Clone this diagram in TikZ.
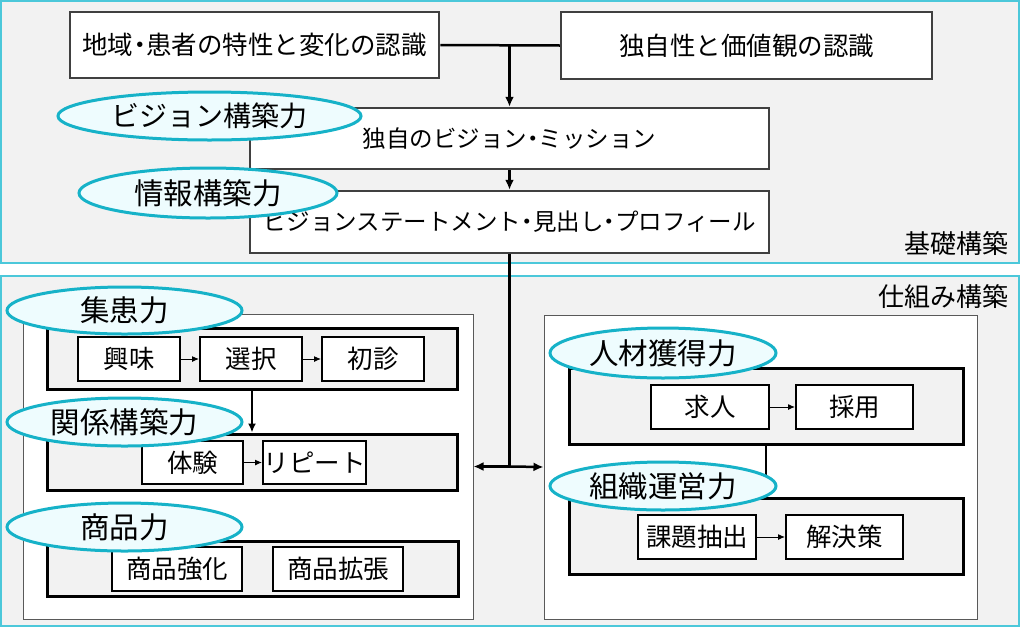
\documentclass[tikz,border=0pt]{standalone}
\usepackage{fontspec}
\setmainfont{Noto Sans CJK JP}
\usetikzlibrary{shapes.geometric,arrows.meta}
\definecolor{panelcyan}{RGB}{76,200,218}
\definecolor{skillcyan}{RGB}{22,178,200}
\definecolor{skillfill}{RGB}{238,252,254}
\definecolor{panelgray}{RGB}{242,242,242}
\newcommand\nkg{\kern-0.25em・\kern-0.25em}
\begin{document}
\begin{tikzpicture}[x=1pt,y=-1pt,
	panel/.style={rectangle,draw=panelcyan,fill=panelgray,line width=1.5pt,inner sep=0pt},
	white/.style={rectangle,draw=black!65,fill=white,line width=1pt,inner sep=0pt},
	subpanel/.style={rectangle,draw=black,fill=panelgray,line width=3pt,inner sep=0pt},
	topbox/.style={rectangle,draw=black!75,fill=white,line width=2.5pt,inner sep=0pt,font=\fontsize{25.5}{30}\selectfont},
	innerbox/.style={rectangle,draw=black,fill=white,line width=2pt,inner sep=0pt,minimum height=44,font=\fontsize{25.5}{30}\selectfont},
	skill/.style={ellipse,draw=skillcyan,fill=skillfill,line width=3pt,inner sep=0pt,font=\fontsize{29.5}{33}\selectfont},
	mainarr/.style={line width=2.5pt,-{Latex[length=10pt,width=9pt]}},
	smallarr/.style={line width=1pt,-{Latex[length=7pt,width=6pt]}}]
	\useasboundingbox [fill=white] (0,0) rectangle (1024,627);

	% panels
	\node (P1) [panel,minimum width=1018,minimum height=262] at (510,132){};
	\node (P2) [panel,minimum width=1018,minimum height=350] at (510,451){};
	\node (N1) [anchor=east,inner sep=0pt,font=\fontsize{26}{30}\selectfont] at (1009,244) {基礎構築};
	\node (N2) [anchor=east,inner sep=0pt,font=\fontsize{26}{30}\selectfont] at (1009,297) {仕組み構築};

	% top boxes
	\node (B1) [topbox,minimum width=369,minimum height=66] at (254.5,45) {地域\nkg 患者の特性と変化の認識};
	\node (B2) [topbox,minimum width=371,minimum height=67] at (746.5,45.5) {独自性と価値観の認識};
	\node (B3) [topbox,minimum width=519,minimum height=61,font=\fontsize{23.5}{28}\selectfont] at (509.5,138.5) {独自のビジョン\nkg ミッション};
	\node (B4) [topbox,minimum width=519,minimum height=62,font=\fontsize{23.5}{28}\selectfont] at (509.5,222) {ビジョンステートメント\nkg 見出し\nkg プロフィール};
	\coordinate (J1) at (B3.north |- B1.east);
	\draw [line width=2.5pt] (B1.east)--(B2.west);
	\draw [mainarr] (J1)--(B3.north);
	\draw [mainarr] (B3.south)--(B4.north);

	% white panels
	\node (W1) [white,minimum width=450,minimum height=305] at (248,466.5){};
	\node (W2) [white,minimum width=433,minimum height=304] at (760.5,467){};
	\coordinate (J2) at (B4.south |- W1.east);
	\draw [line width=2.5pt] (B4.south)--(J2);
	\draw [mainarr] (J2)--(W1.east);
	\draw [mainarr] (J2)--(W2.west);

	% left side
	\node (S1) [subpanel,minimum width=410,minimum height=61] at (252,358.5){};
	\node (S2) [subpanel,minimum width=410,minimum height=56] at (252,462){};
	\node (S3) [subpanel,minimum width=411,minimum height=55] at (252.5,568.5){};
	\node (T1) [innerbox,minimum width=102] at (129,359) {興味};
	\node (T2) [innerbox,minimum width=102] at (251,359) {選択};
	\node (T3) [innerbox,minimum width=102] at (373,359) {初診};
	\node (T4) [innerbox,minimum width=101,minimum height=43] at (192.5,462.5) {体験};
	\node (T5) [innerbox,minimum width=103,minimum height=43] at (314.5,462.5) {リピート};
	\node (T6) [innerbox,minimum width=130] at (177,569) {商品強化};
	\node (T7) [innerbox,minimum width=130] at (338,569) {商品拡張};
	\draw [smallarr] (T1.east)--(T2.west);
	\draw [smallarr] (T2.east)--(T3.west);
	\draw [smallarr] (T4.east)--(T5.west);
	\draw [line width=2.5pt,-{Latex[length=9pt,width=8pt]}] (S1.south)--(S2.north);

	% right side
	\node (S4) [subpanel,minimum width=394,minimum height=76] at (766,406){};
	\node (S5) [subpanel,minimum width=394,minimum height=76] at (766,536){};
	\draw [line width=2.5pt] (S4.south)--(S5.north);
	\node (T8) [innerbox,minimum width=118] at (710,407) {求人};
	\node (T9) [innerbox,minimum width=117] at (854.5,407) {採用};
	\node (T10) [innerbox,minimum width=118] at (697,537) {課題抽出};
	\node (T11) [innerbox,minimum width=117] at (844.5,537) {解決策};
	\draw [smallarr] (T8.east)--(T9.west);
	\draw [smallarr] (T10.east)--(T11.west);

	% skills
	\node (E1) [skill,minimum width=303,minimum height=48,font=\fontsize{28}{32}\selectfont] at (209.5,116) {ビジョン構築力};
	\node (E2) [skill,minimum width=258,minimum height=50] at (208,193) {情報構築力};
	\node (E3) [skill,minimum width=235,minimum height=47] at (124.5,310.5) {集患力};
	\node (E4) [skill,minimum width=235,minimum height=48] at (124.5,422) {関係構築力};
	\node (E5) [skill,minimum width=235,minimum height=48] at (124.5,527) {商品力};
	\node (E6) [skill,minimum width=226,minimum height=50] at (663,353) {人材獲得力};
	\node (E7) [skill,minimum width=226,minimum height=48] at (663,486) {組織運営力};
\end{tikzpicture}
\end{document}
